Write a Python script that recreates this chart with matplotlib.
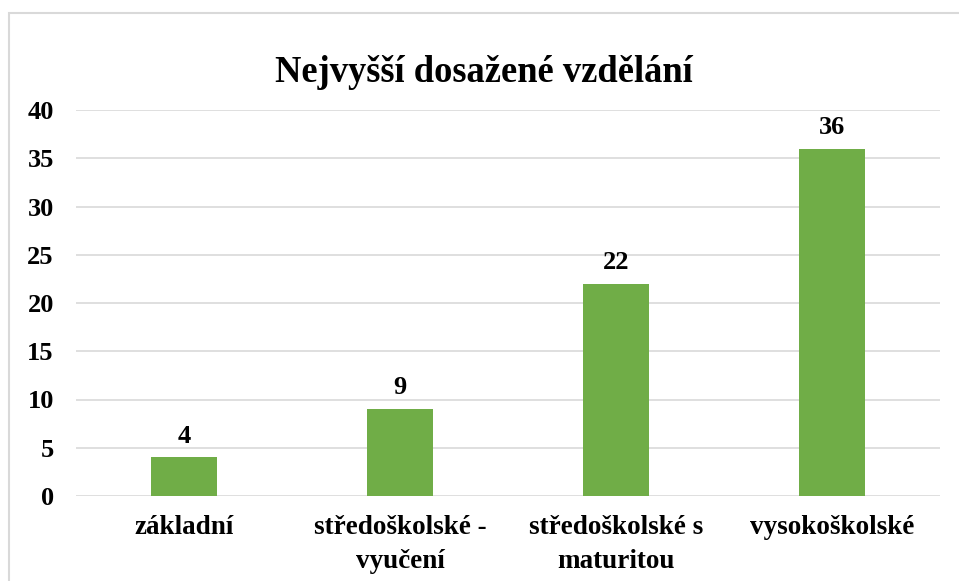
import matplotlib.pyplot as plt
from matplotlib.patches import Rectangle

categories = ['základní', 'středoškolské -\nvyučení', 'středoškolské s\nmaturitou', 'vysokoškolské']
values = [4, 9, 22, 36]
yticks = [0, 5, 10, 15, 20, 25, 30, 35, 40]

plt.rcParams['font.family'] = ['Liberation Serif', 'DejaVu Serif']
plt.rcParams['font.weight'] = 'bold'

fig = plt.figure(figsize=(9.59, 5.81), dpi=100)
# light grey frame round the chart
fig.patches.append(Rectangle((9 / 959, -0.1), 1.2, 1.1 - 13 / 581,
                             transform=fig.transFigure, fill=False,
                             edgecolor='#D9D9D9', linewidth=1.5))
ax = fig.add_axes([76 / 959, 1 - 496 / 581, 864 / 959, 386 / 581])

x = range(len(categories))
ax.bar(x, values, width=0.31, color='#70AD47', zorder=3)
for xi, v in zip(x, values):
    ax.text(xi, v + 1.0, str(v), ha='center', va='bottom', fontsize=19, fontweight='bold')

ax.set_xlim(-0.5, 3.5)
ax.set_ylim(0, 40)
ax.set_yticks(yticks)
ax.set_xticks(list(x))
ax.set_xticklabels(categories, fontsize=19.5, fontweight='bold', linespacing=1.45)
ax.tick_params(axis='y', labelsize=19, length=0, pad=16)
ax.tick_params(axis='x', length=0, pad=14)
ax.grid(axis='y', color='#D9D9D9', linewidth=1.2, zorder=0)
for s in ax.spines.values():
    s.set_visible(False)

fig.text(484 / 959, 1 - 73 / 581, 'Nejvyšší dosažené vzdělání', ha='center', va='center',
         fontsize=26.3, fontweight='bold')

fig.savefig('out.png', dpi=100, facecolor='white')
